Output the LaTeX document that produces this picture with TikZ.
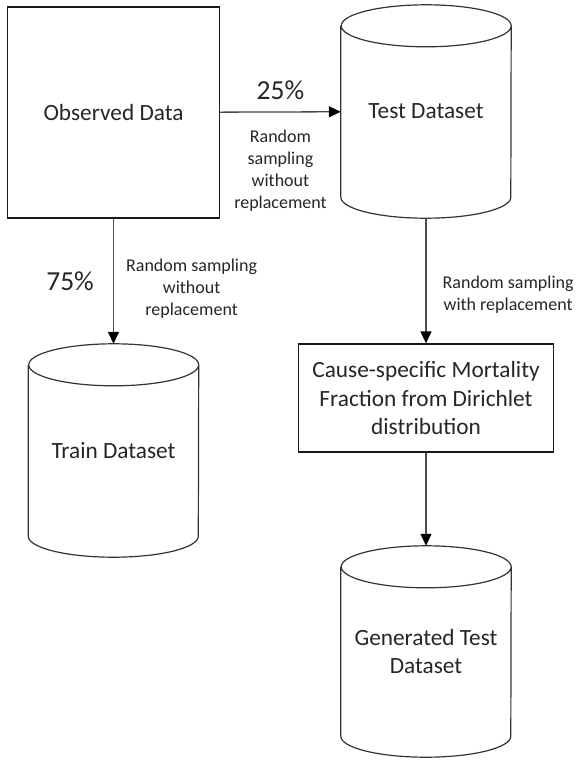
\documentclass[tikz,border=0pt]{standalone}
\usepackage{fontspec}
\setmainfont{Carlito}
\usetikzlibrary{positioning,arrows.meta}

\tikzset{
	box/.style={draw=black!90, line width=1.3pt, text=black!85, font=\fontsize{23.3}{28.4}\selectfont, align=center, inner sep=0pt},
	store/.style={text=black!85, font=\fontsize{23.3}{28.4}\selectfont, align=center, minimum width=170pt, inner sep=0pt},
	storeline/.style={draw=black!80, line width=1.2pt},
	flow/.style={draw=black!70, line width=1.3pt, -{Triangle[length=12pt,width=11pt,color=black]}},
	note/.style={font=\fontsize{18}{22}\selectfont, text=black!85, align=center, inner sep=0pt},
	share/.style={font=\fontsize{27.5}{33}\selectfont, text=black!85, inner sep=0pt},
}

\begin{document}
\begin{tikzpicture}[x=1pt, y=-1pt]
	\useasboundingbox (0,0) rectangle (578,760);
	
	\node[box, minimum width=212pt, minimum height=211pt] (obs) at (113.5,112.5) {Observed Data};
	\node[store, minimum height=213pt] (test) at (426,111.5) {Test Dataset};
	\node[store, minimum height=213pt] (train) at (113.5,450.5) {Train Dataset};
	\node[box, minimum width=255pt, minimum height=108pt] (csmf) at (426,398) {Cause-specific Mortality\\Fraction from Dirichlet\\distribution};
	\node[store, minimum height=211pt] (gen) at (426,651.5) {Generated Test\\Dataset};
	
	\foreach \db in {test,train,gen}
		\draw[storeline] ([yshift=-21pt]\db.north west) -- ([yshift=21pt]\db.south west)
			arc[start angle=180, end angle=360, x radius=85pt, y radius=21pt]
			-- ([yshift=-21pt]\db.north east)
			arc[start angle=0, end angle=180, x radius=85pt, y radius=21pt]
			arc[start angle=180, end angle=360, x radius=85pt, y radius=21pt];
	
	\draw[flow] (obs) -- node[share, above=11.5pt] {25\%} node[note, below=17pt] {Random\\sampling\\without\\replacement} (test);
	\draw[flow] (obs) -- node[share, left=19pt] {75\%} node[note, right=12pt, pos=0.56] {Random sampling\\without\\replacement} (train);
	\draw[flow] (test) -- node[note, right=16pt, pos=0.61] {Random sampling\\with replacement} (csmf);
	\draw[flow] (csmf) -- (gen);
\end{tikzpicture}
\end{document}
